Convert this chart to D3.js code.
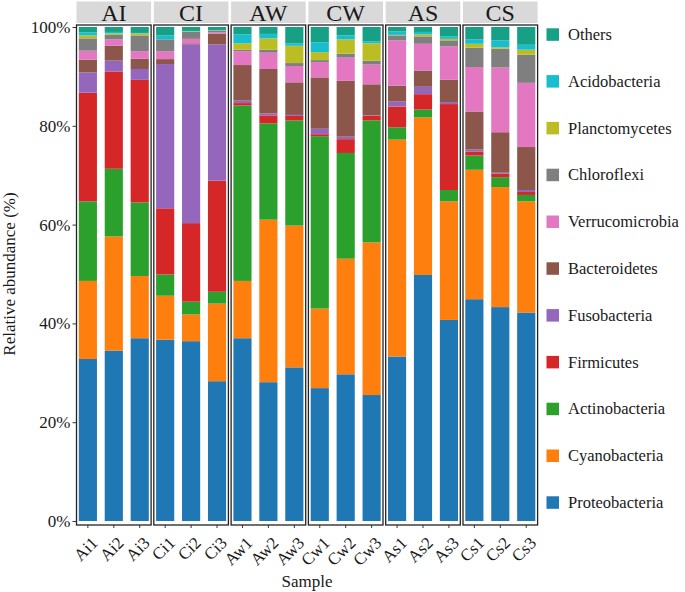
<!DOCTYPE html>
<html><head><meta charset="utf-8">
<script src="https://cdn.jsdelivr.net/npm/d3@7"></script>
<style>
body{margin:0;background:#fff}
svg text{font-family:"Liberation Serif","Times New Roman",Tinos,Times,"DejaVu Serif",serif;}
</style>
</head><body>
<svg id="chart" width="685" height="592"></svg>
<script>
const groups = ["AI","CI","AW","CW","AS","CS"];
const samples = ["Ai1","Ai2","Ai3","Ci1","Ci2","Ci3","Aw1","Aw2","Aw3","Cw1","Cw2","Cw3","As1","As2","As3","Cs1","Cs2","Cs3"];
const phyla = ["Proteobacteria","Cyanobacteria","Actinobacteria","Firmicutes","Fusobacteria","Bacteroidetes","Verrucomicrobia","Chloroflexi","Planctomycetes","Acidobacteria","Others"];
const colors = ["#1f77b4","#ff7f0e","#2ca02c","#d62728","#9467bd","#8c564b","#e377c2","#7f7f7f","#bcbd22","#17becf","#16a085"];
const yTicks = [0,20,40,60,80,100];

const proteobacteria  = [32.8,34.5,37.0,36.7,36.4,28.3,37.0,28.1,31.1,26.9,29.7,25.5,33.3,49.8,40.7,44.9,43.3,42.2];
const cyanobacteria   = [15.8,23.1,12.6, 8.9, 5.4,15.7,11.6,32.9,28.7,16.1,23.4,30.9,43.9,31.9,24.0,26.2,24.3,22.5];
const actinobacteria  = [16.1,13.7,14.9, 4.3, 2.6, 2.4,35.5,19.5,21.3,34.9,21.4,24.7, 2.5, 1.6, 2.3, 2.9, 2.0, 1.3];
const firmicutes      = [22.0,19.7,24.8,13.4,15.9,22.5, 0.5, 1.6, 0.9, 0.4, 2.8, 0.9, 4.2, 3.1,17.4, 0.8, 0.7, 0.6];
const fusobacteria    = [ 4.1, 2.2, 2.2,29.2,36.2,27.6, 0.5, 0.4, 0.2, 1.1, 0.5, 0.1, 1.0, 1.5, 0.4, 0.4, 0.2, 0.4];
const bacteroidetes   = [ 2.6, 3.0, 2.1, 1.0, 0.2, 2.1, 7.2, 9.0, 6.6,10.4,11.3, 6.3, 3.2, 3.3, 4.5, 7.7, 8.2, 8.7];
const verrucomicrobia = [ 1.8, 1.3, 1.5, 1.6, 0.9, 0.3, 2.8, 3.3, 3.3, 3.1, 4.7, 4.0, 9.2, 5.4, 6.8, 9.0,13.1,13.0];
const chloroflexi     = [ 2.5, 0.9, 3.2, 2.4, 1.4, 0.4, 0.3, 0.6, 0.6, 0.4, 0.8, 0.8, 1.0, 1.5, 1.2, 3.9, 3.8, 5.7];
const planctomycetes  = [ 0.6, 0.3, 0.4, 0.0, 0.1, 0.05,1.3, 2.3, 3.5, 1.6, 2.9, 3.5, 0.1, 0.4, 0.3, 0.8, 0.3, 1.0];
const acidobacteria   = [ 0.6, 0.3, 0.1, 0.8, 0.1, 0.05,1.8, 0.9, 0.5, 2.0, 0.8, 0.4, 0.7, 0.5, 0.5, 0.9, 1.4, 1.0];
const others          = [ 1.1, 1.0, 1.2, 1.7, 0.8, 0.6, 1.5, 1.4, 3.3, 3.1, 1.7, 2.9, 0.9, 1.0, 1.9, 2.5, 2.7, 3.6];

const seriesValues = [proteobacteria,cyanobacteria,actinobacteria,firmicutes,fusobacteria,bacteroidetes,verrucomicrobia,chloroflexi,planctomycetes,acidobacteria,others];
const table = samples.map((s,i)=>{const o={sample:s,group:groups[Math.floor(i/3)]};phyla.forEach((p,j)=>o[p]=seriesValues[j][i]);return o;});

const svg = d3.select("#chart");
const panelTop = 25, panelBottom = 525;
const x0 = 76.5, panelW = 74.6, gap = 2.7;
const y = d3.scaleLinear().domain([0,100]).range([521,27]);
const color = d3.scaleOrdinal().domain(phyla).range(colors);
const stacked = d3.stack().keys(phyla)(table);

groups.forEach((g,gi)=>{
  const pl = x0 + gi*(panelW+gap);
  const sub = samples.slice(gi*3, gi*3+3);
  const xb = d3.scaleBand().domain(sub).range([pl+1, pl+panelW-1]).paddingInner(0.3).paddingOuter(0.05);
  const gp = svg.append("g");
  gp.append("rect").attr("x",pl).attr("y",1.5).attr("width",panelW).attr("height",21.5).attr("fill","#d9d9d9");
  gp.append("text").attr("x",pl+panelW/2).attr("y",20.5).attr("text-anchor","middle")
    .attr("font-size",24).attr("fill","#1a1a1a").text(g);
  stacked.forEach(layer=>{
    layer.forEach((d,i)=>{
      if (Math.floor(i/3)!==gi) return;
      gp.append("rect").attr("x",xb(d.data.sample)).attr("width",xb.bandwidth())
        .attr("y",y(d[1])).attr("height",Math.max(0,y(d[0])-y(d[1])))
        .attr("fill",color(layer.key));
    });
  });
  gp.append("rect").attr("x",pl).attr("y",panelTop).attr("width",panelW).attr("height",panelBottom-panelTop)
    .attr("fill","none").attr("stroke","#222").attr("stroke-width",1.3);
  const xa = gp.append("g").attr("transform",`translate(0,${panelBottom})`)
    .call(d3.axisBottom(xb).tickSize(3).tickSizeOuter(0));
  xa.select(".domain").remove();
  xa.selectAll("line").attr("stroke","#333");
  xa.selectAll("text").attr("font-size",17).attr("fill","#1a1a1a")
    .attr("text-anchor","end").attr("dy",null).attr("y",null)
    .attr("transform","translate(11,19) rotate(-45)");
});

const ya = svg.append("g").attr("transform",`translate(${x0},0)`)
  .call(d3.axisLeft(y).tickValues(yTicks).tickFormat(d=>d+"%").tickSize(4).tickSizeOuter(0));
ya.select(".domain").remove();
ya.selectAll("line").attr("stroke","#333");
ya.selectAll("text").attr("font-size",17).attr("fill","#1a1a1a").attr("x",-6);

svg.append("text").attr("transform",`translate(15,274) rotate(-90)`).attr("text-anchor","middle")
  .attr("font-size",17).attr("fill","#1a1a1a").text("Relative abundance (%)");
svg.append("text").attr("x",307).attr("y",587).attr("text-anchor","middle")
  .attr("font-size",17).attr("fill","#1a1a1a").text("Sample");

const legendOrder = phyla.slice().reverse();
const lg = svg.append("g");
legendOrder.forEach((p,i)=>{
  const cy = 34.5 + i*46.8;
  lg.append("rect").attr("x",546.5).attr("y",cy-6.2).attr("width",12.5).attr("height",12.5).attr("fill",color(p));
  lg.append("text").attr("x",568).attr("y",cy+5.5).attr("font-size",16.5)
    .attr("fill","#1a1a1a").text(p);
});
</script>
</body></html>
